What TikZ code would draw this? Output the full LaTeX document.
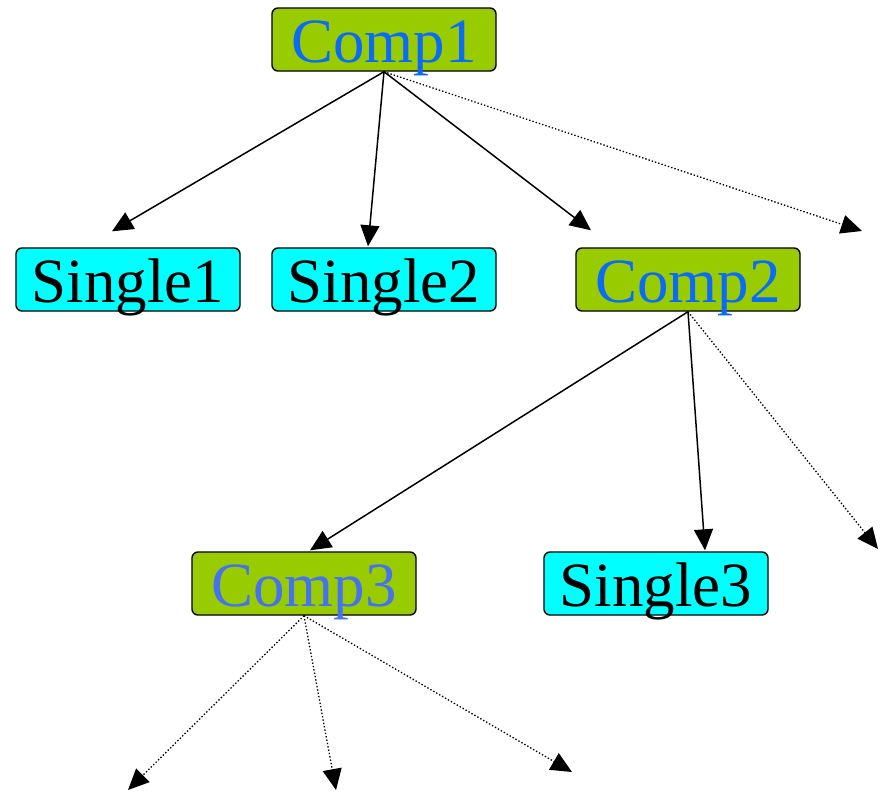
\documentclass[tikz,border=0pt]{standalone}
\usepackage{fontspec}
\setmainfont{Liberation Serif}
\usetikzlibrary{arrows.meta}
\definecolor{compgreen}{HTML}{99CC00}
\definecolor{singlecyan}{HTML}{00FFFF}
\definecolor{compblue}{HTML}{0A6BFA}
\definecolor{compblueb}{HTML}{4472F0}
\begin{document}
\begin{tikzpicture}[x=1pt,y=-1pt,
  box/.style={draw=black,line width=1.4pt,rounded corners=6pt,
    minimum width=224pt,minimum height=63pt,inner sep=0pt,
    text height=45pt,text depth=0pt,
    font=\fontsize{63}{63}\selectfont},
  compbox/.style={box,fill=compgreen,text=compblue},
  singlebox/.style={box,fill=singlecyan,text=black},
  link/.style={line width=1.5pt,-{Triangle[length=21pt,width=19pt]}},
  openlink/.style={link,line width=1.3pt,dash pattern=on 1.4pt off 2pt}]
\useasboundingbox (0,0) rectangle (884,793);

% tree nodes
\node[compbox]   (c1) at (384,39.5)  {Comp1};
\node[singlebox] (s1) at (128,279.5) {Single1};
\node[singlebox] (s2) at (384,279.5) {Single2};
\node[compbox]   (c2) at (688,279.5) {Comp2};
\node[compbox,text=compblueb] (c3) at (304,583.5) {Comp3};
\node[singlebox] (s3) at (656,583.5) {Single3};

% open ends of the dotted links
\coordinate (o1) at (862,231);
\coordinate (o2) at (878,549);
\coordinate (o3) at (128,790);
\coordinate (o4) at (336,790);
\coordinate (o5) at (572,772);

% links from Comp1
\draw[link] (c1.south) -- ([shift={(-16,-16)}]s1.north);
\draw[link] (c1.south) -- ([shift={(-16,-1)}]s2.north);
\draw[link] (c1.south) -- ([shift={(-97,-17)}]c2.north);
\draw[openlink] (c1.south) -- (o1);

% links from Comp2
\draw[link] (c2.south) -- ([shift={(6,-1)}]c3.north);
\draw[link] (c2.south) -- ([shift={(49,-1)}]s3.north);
\draw[openlink] (c2.south) -- (o2);

% links from Comp3
\draw[openlink] (c3.south) -- (o3);
\draw[openlink] (c3.south) -- (o4);
\draw[openlink] (c3.south) -- (o5);
\end{tikzpicture}
\end{document}
